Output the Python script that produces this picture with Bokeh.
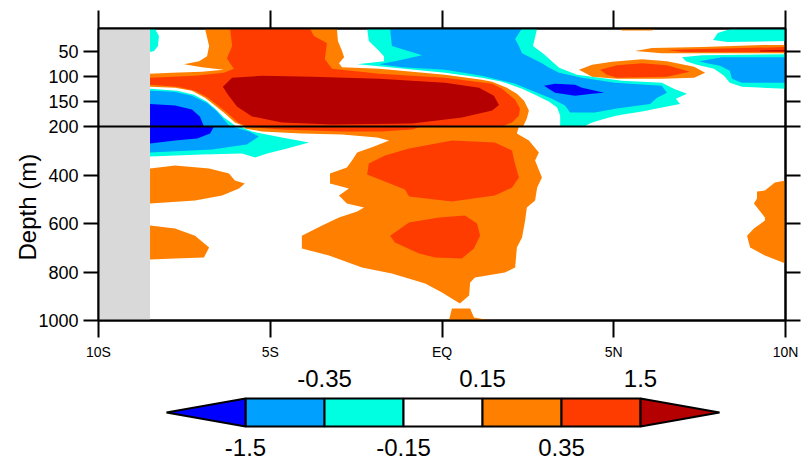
from bokeh.plotting import figure
from bokeh.models import Range1d, FixedTicker, LinearAxis, Span, Title
from bokeh.layouts import column
from bokeh.embed import file_html
from bokeh.resources import INLINE
from bokeh.core.properties import value

# ---------------- data ----------------
LEVELS = [-1.5, -0.35, -0.15, 0.15, 0.35, 1.5]
COLORS = ["#0000FF", "#00A0FF", "#00FFE1", "#FFFFFF", "#FF8000", "#FF3C00", "#B40000"]
LAT_TICKS = [-10, -5, 0, 5, 10]
LAT_LABELS = ["10S", "5S", "EQ", "5N", "10N"]
UPPER_DEPTH_TICKS = [50, 100, 150]
LOWER_DEPTH_TICKS = [200, 400, 600, 800, 1000]
UPPER_DEPTH = [5, 200]
LOWER_DEPTH = [200, 1000]
LAT_RANGE = [-10, 10]
LAND_EDGE_LAT = -8.5

# filled-contour region outlines (latitude, depth m); colour class = index in COLORS
# upper section 5-200 m
U_CYAN1_LAT = [-8.5, -8.36, -8.24, -8.27, -8.38, -8.5]
U_CYAN1_DEP = [5, 5, 20, 40, 50, 52]
U_CYAN_UL_LAT = [-8.5, -7.71, -7.22, -6.84, -6.58, -6.35, -6.14, -6.0, -8.5]
U_CYAN_UL_DEP = [125, 129, 137, 151, 166, 182, 192, 200, 200]
U_LB_UL_LAT = [-8.5, -7.80, -7.28, -6.84, -6.55, -6.35, -6.17, -8.5]
U_LB_UL_DEP = [129, 131, 139, 153, 170, 186, 200, 200]
U_BLUE_UL_LAT = [-8.5, -7.77, -7.28, -7.05, -6.93, -8.5]
U_BLUE_UL_DEP = [155, 158, 166, 180, 200, 200]
U_CYAN_UM_LAT = [-2.18, 2.77, 2.65, 2.97, 3.23, 3.41, 3.93, 5.24, 6.40, 6.75, 7.13, 6.81, 6.93, 6.40, 5.82, 5.09,
                 4.66, 4.37, 4.13, 3.44, 3.44, 3.35, 3.12, 2.77, 2.33, 1.75, 1.16, 0.09, -1.83, -2.47, -1.69, -1.69,
                 -1.86, -2.13]
U_CYAN_UM_DEP = [5, 5, 40, 56, 72, 83, 97, 109, 113, 125, 135, 145, 155, 162, 170, 178,
                 186, 192, 200, 200, 178, 162, 151, 139, 125, 111, 103, 93, 80, 76, 70, 60,
                 48, 30]
U_LB_UM_LAT = [-1.51, 2.33, 2.13, 2.24, 2.33, 2.91, 3.12, 3.41, 4.08, 5.04, 6.40, 6.55, 6.26, 6.06, 5.09, 4.45,
               3.73, 3.58, 3.20, 2.77, 2.13, 1.16, 0.09, -1.16, -1.83, -1.37, -0.58, -1.46]
U_LB_UM_DEP = [5, 5, 26, 40, 54, 74, 83, 93, 103, 113, 119, 133, 143, 155, 164, 172,
               172, 158, 145, 133, 115, 99, 87, 82, 76, 70, 58, 40]
U_BLUE_UM_LAT = [2.97, 3.29, 3.87, 4.08, 4.72, 4.37, 3.87, 3.29]
U_BLUE_UM_DEP = [119, 115, 117, 123, 133, 135, 139, 133]
U_CYAN_UR1_LAT = [8.44, 10, 10, 8.30, 7.89, 8.03]
U_CYAN_UR1_DEP = [5, 5, 30, 32, 28, 14]
U_CYAN_UR2_LAT = [6.99, 7.57, 10, 10, 8.73, 8.38, 8.21, 7.92, 7.42, 7.10]
U_CYAN_UR2_DEP = [62, 58, 56, 125, 121, 113, 99, 85, 77, 70]
U_LB_UR_LAT = [7.48, 8.15, 10, 10, 8.73, 8.44, 8.38, 8.09, 7.71]
U_LB_UR_DEP = [70, 62, 62, 113, 113, 105, 89, 79, 74]
U_ORANGE1_LAT = [-8.5, -7.86, -6.99, -6.35, -6.99, -7.51, -7.07, -6.84, -6.78, -6.90, -3.06, -3.03, -2.91, -2.85,
                 -3.00, -2.91, -1.83, 0.09, 1.16, 1.46, 1.89, 2.18, 2.39, 2.53, 2.47, 2.36, -5.74, -6.03, -6.32,
                 -6.61, -6.90, -7.28, -7.77, -8.5]
U_ORANGE1_DEP = [95, 93, 91, 87, 82, 76, 70, 60, 40, 5, 5, 30, 50, 62,
                 74, 82, 85, 97, 107, 111, 123, 135, 149, 168, 184, 200, 200, 192, 174,
                 158, 143, 129, 123, 121]
U_RED1_LAT = [-6.17, -3.84, -3.73, -3.35, -3.41, -3.20, -1.83, 0.09, 1.46, 1.75, 2.13, 2.27, 2.24, 2.04, 1.75,
              -5.68, -5.94, -6.23, -6.52, -6.81, -7.19, -7.71, -8.5, -8.5, -7.19, -6.35, -6.06, -6.17, -6.26, -6.11]
U_RED1_DEP = [5, 5, 20, 34, 66, 85, 95, 103, 115, 125, 147, 164, 178, 192, 200,
              200, 192, 174, 158, 143, 129, 121, 117, 103, 99, 93, 85, 74, 64, 40]
U_DARKRED1_LAT = [-6.38, -6.11, -5.24, -3.78, -1.83, 0.09, 1.08, 1.51, 1.66, 1.46, 0.58, -0.87, -3.20, -4.66,
                  -5.53, -5.97, -6.23]
U_DARKRED1_DEP = [121, 103, 99, 101, 105, 113, 123, 139, 157, 168, 182, 194, 196, 192, 180, 160, 137]
U_ORANGE_UR1_LAT = [5.62, 6.11, 7.57, 9.32, 10, 10, 8.15, 6.40]
U_ORANGE_UR1_DEP = [50, 44, 42, 38, 38, 54, 54, 54]
U_RED_UR1_LAT = [6.55, 7.57, 10, 10, 8.15, 6.99]
U_RED_UR1_DEP = [48, 46, 42, 52, 52, 52]
U_DARKRED_UR1_LAT = [9.26, 10, 10, 9.26]
U_DARKRED_UR1_DEP = [49, 48, 51, 51]
U_ORANGE_UR2_LAT = [3.99, 4.37, 4.95, 5.82, 6.55, 7.34, 7.66, 7.34, 6.40, 5.09, 4.37]
U_ORANGE_UR2_DEP = [87, 77, 71, 66, 70, 81, 93, 103, 105, 105, 101]
U_RED_UR2_LAT = [4.60, 5.09, 5.82, 6.55, 7.22, 6.55, 5.09, 4.80]
U_RED_UR2_DEP = [87, 78, 74, 78, 91, 101, 103, 97]
U_ORANGE_TOP_LAT = [5.15, 6.26, 6.11, 5.24]
U_ORANGE_TOP_DEP = [5, 5, 9, 9]

# lower section 200-1000 m
L_CYAN_LAT = [-8.5, -5.88, -5.53, -4.66, -3.87, -4.51, -5.09, -5.44, -5.82, -6.99, -8.5]
L_CYAN_DEP = [200, 200, 221, 245, 266, 291, 311, 328, 311, 315, 324]
L_LB_LAT = [-8.5, -6.11, -5.62, -5.33, -5.68, -6.70, -8.5]
L_LB_DEP = [200, 200, 221, 241, 274, 295, 307]
L_BLUE_LAT = [-8.5, -6.64, -6.75, -7.13, -7.77, -8.5]
L_BLUE_DEP = [200, 200, 229, 249, 258, 270]
L_ORANGE1_LAT = [-8.5, -7.77, -6.78, -6.20, -6.03, -5.74, -5.91, -6.40, -7.19, -8.5]
L_ORANGE1_DEP = [373, 361, 373, 394, 423, 435, 456, 485, 505, 518]
L_ORANGE2_LAT = [-8.5, -7.77, -7.19, -6.78, -6.93, -7.77, -8.5]
L_ORANGE2_DEP = [608, 621, 650, 699, 740, 744, 748]
L_ORANGE3_LAT = [-5.74, 2.24, 2.18, 2.53, 2.82, 2.71, 2.91, 2.77, 2.71, 2.47, 2.42, 2.33, 2.18, 2.13, 1.83, 0.96,
                 0.82, 0.79, 0.52, 0.0, -0.49, -1.46, -2.33, -3.29, -4.08, -4.08, -3.49, -3.00, -2.47, -2.27,
                 -2.77, -3.00, -2.71, -3.26, -3.26, -2.77, -2.62, -2.47, -1.98, -1.54, -1.89, -2.91, -4.08,
                 -5.24, -5.74]
L_ORANGE3_DEP = [200, 200, 229, 258, 307, 340, 410, 452, 505, 534, 588, 658, 699, 781, 802, 823,
                 843, 897, 930, 885, 847, 806, 781, 732, 703, 650, 608, 575, 551, 534,
                 518, 485, 456, 435, 394, 369, 340, 307, 282, 258, 245, 233, 229,
                 221, 208]
L_ORANGE_BOT_LAT = [0.29, 0.82, 0.93, 1.30, 1.60, 1.60, 0.20]
L_ORANGE_BOT_DEP = [951, 951, 988, 997, 998, 1000, 1000]
L_ORANGE_R_LAT = [10, 9.69, 9.40, 9.17, 9.17, 9.08, 9.40, 9.40, 9.08, 8.88, 8.97, 9.40, 10]
L_ORANGE_R_DEP = [423, 431, 464, 468, 497, 518, 575, 588, 621, 650, 699, 732, 765]
L_RED_BAND_LAT = [-5.74, -0.58, -0.87, -1.75, -2.91, -4.66, -5.53]
L_RED_BAND_DEP = [200, 200, 212, 221, 221, 212, 204]
L_RED1_LAT = [-2.13, -1.66, -0.96, 0.29, 1.54, 2.04, 2.10, 2.24, 2.04, 1.54, 0.29, -0.96, -1.08, -2.18]
L_RED1_DEP = [353, 320, 291, 258, 266, 299, 340, 410, 452, 485, 509, 489, 460, 398]
L_RED2_LAT = [-1.51, -0.96, -0.09, 0.67, 1.02, 1.11, 0.93, 0.58, -0.20, -0.67, -1.37]
L_RED2_DEP = [650, 596, 575, 567, 600, 650, 703, 744, 740, 724, 678]

UPPER_REGIONS = [
    (U_CYAN1_LAT, U_CYAN1_DEP, 2), (U_CYAN_UL_LAT, U_CYAN_UL_DEP, 2), (U_LB_UL_LAT, U_LB_UL_DEP, 1),
    (U_BLUE_UL_LAT, U_BLUE_UL_DEP, 0), (U_CYAN_UM_LAT, U_CYAN_UM_DEP, 2), (U_LB_UM_LAT, U_LB_UM_DEP, 1),
    (U_BLUE_UM_LAT, U_BLUE_UM_DEP, 0), (U_CYAN_UR1_LAT, U_CYAN_UR1_DEP, 2), (U_CYAN_UR2_LAT, U_CYAN_UR2_DEP, 2),
    (U_LB_UR_LAT, U_LB_UR_DEP, 1), (U_ORANGE1_LAT, U_ORANGE1_DEP, 4), (U_RED1_LAT, U_RED1_DEP, 5),
    (U_DARKRED1_LAT, U_DARKRED1_DEP, 6), (U_ORANGE_UR1_LAT, U_ORANGE_UR1_DEP, 4),
    (U_RED_UR1_LAT, U_RED_UR1_DEP, 5), (U_DARKRED_UR1_LAT, U_DARKRED_UR1_DEP, 6),
    (U_ORANGE_UR2_LAT, U_ORANGE_UR2_DEP, 4), (U_RED_UR2_LAT, U_RED_UR2_DEP, 5),
    (U_ORANGE_TOP_LAT, U_ORANGE_TOP_DEP, 4),
]
LOWER_REGIONS = [
    (L_CYAN_LAT, L_CYAN_DEP, 2), (L_LB_LAT, L_LB_DEP, 1), (L_BLUE_LAT, L_BLUE_DEP, 0),
    (L_ORANGE1_LAT, L_ORANGE1_DEP, 4), (L_ORANGE2_LAT, L_ORANGE2_DEP, 4), (L_ORANGE3_LAT, L_ORANGE3_DEP, 4),
    (L_ORANGE_BOT_LAT, L_ORANGE_BOT_DEP, 4), (L_ORANGE_R_LAT, L_ORANGE_R_DEP, 4),
    (L_RED_BAND_LAT, L_RED_BAND_DEP, 5), (L_RED1_LAT, L_RED1_DEP, 5), (L_RED2_LAT, L_RED2_DEP, 5),
]

# ---------------- layout / style ----------------
FONT = "Liberation Sans"
LEFT_B, RIGHT_B, FRAME_W = 98, 22, 687
TOP_B, BOTTOM_B = 28, 42
UPPER_PX, LOWER_PX = 98, 194
W = LEFT_B + FRAME_W + RIGHT_B
H = TOP_B + UPPER_PX + LOWER_PX + BOTTOM_B
LAND = "#D9D9D9"

# two depth scales stacked in one frame: the lower scale is the main y range,
# the upper scale is an extra y range; both are extended so each section fills its band
u_span = UPPER_DEPTH[1] - UPPER_DEPTH[0]
l_span = LOWER_DEPTH[1] - LOWER_DEPTH[0]
main_top = LOWER_DEPTH[0] - l_span * UPPER_PX / LOWER_PX
upper_bottom = UPPER_DEPTH[1] + u_span * LOWER_PX / UPPER_PX


def upper_to_main(d):
    frac = (d - UPPER_DEPTH[0]) / (upper_bottom - UPPER_DEPTH[0])
    return main_top + frac * (LOWER_DEPTH[1] - main_top)


Y_TICKS = [upper_to_main(d) for d in UPPER_DEPTH_TICKS] + LOWER_DEPTH_TICKS
Y_OVER = {upper_to_main(d): str(d) for d in UPPER_DEPTH_TICKS}
Y_OVER.update({d: str(d) for d in LOWER_DEPTH_TICKS})


def style_axis(ax, ticks, tick_out, size, standoff, overrides=None, show_labels=True):
    ax.ticker = FixedTicker(ticks=ticks, minor_ticks=[])
    ax.major_tick_out = tick_out
    ax.major_tick_in = 0
    ax.minor_tick_line_color = None
    ax.major_tick_line_width = 2
    ax.major_tick_line_color = "black"
    ax.axis_line_width = 2
    ax.axis_line_color = "black"
    ax.major_label_text_font = FONT
    ax.major_label_text_font_size = size
    ax.major_label_text_color = "black" if show_labels else None
    ax.major_label_standoff = standoff
    if overrides:
        ax.major_label_overrides = overrides


p = figure(width=W, height=H, x_range=Range1d(*LAT_RANGE), y_range=Range1d(LOWER_DEPTH[1], main_top),
           x_axis_location="below", y_axis_location="left",
           min_border_left=LEFT_B, min_border_right=RIGHT_B,
           min_border_top=TOP_B, min_border_bottom=BOTTOM_B,
           output_backend="svg", toolbar_location=None)
p.extra_y_ranges = {"upper": Range1d(upper_bottom, UPPER_DEPTH[0])}
p.xgrid.visible = False
p.ygrid.visible = False
p.outline_line_color = "black"
p.outline_line_width = 2

for lat, dep, ci in UPPER_REGIONS:
    p.patch(lat, dep, fill_color=COLORS[ci], line_color=None, y_range_name="upper")
for lat, dep, ci in LOWER_REGIONS:
    p.patch(lat, dep, fill_color=COLORS[ci], line_color=None)
p.quad(left=[LAT_RANGE[0]], right=[LAND_EDGE_LAT], bottom=[UPPER_DEPTH[1]], top=[UPPER_DEPTH[0]],
       fill_color=LAND, line_color=None, y_range_name="upper")
p.quad(left=[LAT_RANGE[0]], right=[LAND_EDGE_LAT], bottom=[LOWER_DEPTH[1]], top=[LOWER_DEPTH[0]],
       fill_color=LAND, line_color=None)
p.add_layout(Span(location=LOWER_DEPTH[0], dimension="width", line_color="black", line_width=2))

style_axis(p.xaxis[0], LAT_TICKS, 17, "14px", 6, {t: l for t, l in zip(LAT_TICKS, LAT_LABELS)})
style_axis(p.yaxis[0], Y_TICKS, 15, "18px", 5, Y_OVER)
top_ax = LinearAxis()
p.add_layout(top_ax, "above")
style_axis(top_ax, LAT_TICKS, 18, "1px", 0, show_labels=False)
right_ax = LinearAxis()
p.add_layout(right_ax, "right")
style_axis(right_ax, Y_TICKS, 15, "1px", 0, show_labels=False)
p.add_layout(Title(text="Depth (m)", align="left", offset=60, vertical_align="middle", standoff=-12,
                   text_font=FONT, text_font_size="24px", text_font_style="normal", text_color="black"),
             "left")

# colour bar
n = len(LEVELS)
cb = figure(width=W, height=98, x_range=Range1d(-1.861, 6.835), y_range=Range1d(0, 98),
            x_axis_location=None, y_axis_location=None,
            min_border_left=LEFT_B, min_border_right=RIGHT_B, min_border_top=0, min_border_bottom=0,
            output_backend="svg", toolbar_location=None)
cb.grid.visible = False
cb.outline_line_color = None
idx = list(range(n))
cb.quad(left=idx[:-1], right=idx[1:], bottom=34, top=62, fill_color=COLORS[1:-1],
        line_color="black", line_width=2)
cb.patch([0, 0, -1], [34, 62, 48], fill_color=COLORS[0], line_color="black", line_width=2)
cb.patch([n - 1, n - 1, n], [34, 62, 48], fill_color=COLORS[-1], line_color="black", line_width=2)
cb.text(x=idx, y=[13 if i % 2 == 0 else 82 for i in idx], text=[str(v) for v in LEVELS],
        text_align="center", text_baseline="middle", text_font=value(FONT),
        text_font_size="24px", text_color="black")

layout = column(p, cb, spacing=0)
open("out.html", "w").write(file_html(layout, INLINE))
